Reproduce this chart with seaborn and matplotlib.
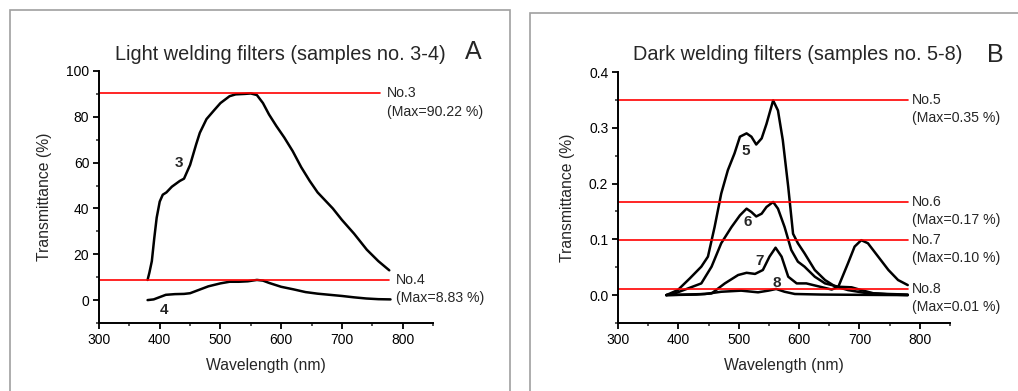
import matplotlib
matplotlib.use("Agg")
import matplotlib.pyplot as plt
import seaborn as sns
import pandas as pd
from matplotlib.patches import Rectangle
from matplotlib.ticker import MultipleLocator

# ---------------- data ----------------
wl3 = [380, 383, 387, 391, 395, 400, 405, 411, 420, 433, 440, 450, 460, 466, 477, 490, 500, 515, 525, 540, 550, 560, 570, 580, 592, 605, 619, 633, 647, 660, 685, 700, 720, 741, 760, 778]
t3 = [8.8, 12, 17, 27, 36, 43, 46, 47, 49.5, 52, 53, 59, 68, 73, 79, 83, 86, 89, 89.8, 90.0, 90.2, 89.5, 86, 81, 76, 71, 65, 58, 52, 47, 40, 35, 29, 22, 17, 13]

wl4 = [380, 390, 400, 410, 425, 440, 450, 465, 480, 500, 515, 530, 545, 560, 570, 580, 600, 620, 640, 660, 680, 700, 720, 740, 760, 780]
t4 = [0, 0.3, 1.3, 2.3, 2.6, 2.7, 3.0, 4.5, 6.0, 7.3, 8.0, 8.0, 8.2, 8.8, 8.5, 7.5, 5.8, 4.7, 3.5, 2.8, 2.3, 1.8, 1.2, 0.7, 0.4, 0.3]

wl5 = [380, 399, 419, 438, 449, 460, 471, 482, 493, 502, 513, 521, 529, 538, 546, 557, 565, 573, 582, 590, 598, 609, 626, 643, 659, 681, 709, 748, 780]
t5 = [0, 0.009, 0.030, 0.051, 0.069, 0.122, 0.182, 0.224, 0.254, 0.284, 0.290, 0.284, 0.270, 0.281, 0.307, 0.349, 0.331, 0.278, 0.194, 0.110, 0.093, 0.075, 0.045, 0.027, 0.016, 0.009, 0.004, 0.002, 0.001]

wl6 = [380, 394, 416, 438, 455, 471, 488, 502, 513, 521, 529, 538, 546, 557, 565, 576, 587, 598, 609, 626, 643, 665, 687, 703, 724, 753, 780]
t6 = [0, 0.003, 0.012, 0.021, 0.051, 0.093, 0.122, 0.143, 0.155, 0.149, 0.141, 0.146, 0.158, 0.167, 0.155, 0.122, 0.081, 0.060, 0.051, 0.033, 0.021, 0.015, 0.014, 0.009, 0.003, 0.001, 0.0]

wl7 = [380, 430, 455, 477, 499, 513, 527, 540, 551, 561, 571, 582, 596, 612, 631, 654, 665, 681, 692, 703, 714, 731, 748, 764, 780]
t7 = [0, 0.001, 0.003, 0.021, 0.036, 0.040, 0.038, 0.045, 0.069, 0.085, 0.069, 0.033, 0.021, 0.021, 0.016, 0.010, 0.015, 0.057, 0.087, 0.0985, 0.093, 0.069, 0.045, 0.027, 0.018]

wl8 = [380, 444, 471, 504, 532, 549, 562, 576, 593, 637, 700, 780]
t8 = [0, 0.002, 0.006, 0.008, 0.005, 0.008, 0.011, 0.006, 0.002, 0.001, 0.0005, 0.0]

# max-level reference lines
levels_A = [90.22, 8.83]
line_end_A = [762, 777]
names_A = ["No.3", "No.4"]
maxlab_A = ["(Max=90.22 %)", "(Max=8.83 %)"]

levels_B = [0.350, 0.167, 0.0985, 0.011]
names_B = ["No.5", "No.6", "No.7", "No.8"]
maxlab_B = ["(Max=0.35 %)", "(Max=0.17 %)", "(Max=0.10 %)", "(Max=0.01 %)"]

# curve number labels (x, y)
lab_A = [("3", 432, 60), ("4", 407, -4.5)]
lab_B = [("5", 512, 0.258), ("6", 515, 0.131), ("7", 535, 0.062), ("8", 563, 0.022)]

# ---------------- style ----------------
sns.set_style("ticks")
plt.rcParams['font.family'] = ['Liberation Sans', 'DejaVu Sans']
plt.rcParams['xtick.direction'] = 'out'
plt.rcParams['ytick.direction'] = 'out'

fig = plt.figure(figsize=(10.18, 3.91), dpi=100)

# panel borders
fig.patches.append(Rectangle((10 / 1018, -0.05), 500 / 1018, 1 - 10 / 391 + 0.05,
                             transform=fig.transFigure, fill=False, edgecolor="#a0a0a0", lw=1.2))
fig.patches.append(Rectangle((530 / 1018, -0.05), 500 / 1018, 1 - 13 / 391 + 0.05,
                             transform=fig.transFigure, fill=False, edgecolor="#a0a0a0", lw=1.2))

axA = fig.add_axes([99 / 1018, 1 - 323 / 391, (433 - 99) / 1018, (323 - 71) / 391])
axB = fig.add_axes([618 / 1018, 1 - 323 / 391, (950 - 618) / 1018, (323 - 72) / 391])

def style_axis(ax, ylim, ymaj, ymin):
    ax.set_xlim(300, 850)
    ax.set_ylim(*ylim)
    ax.xaxis.set_major_locator(MultipleLocator(100))
    ax.xaxis.set_minor_locator(MultipleLocator(50))
    ax.yaxis.set_major_locator(MultipleLocator(ymaj))
    ax.yaxis.set_minor_locator(MultipleLocator(ymin))
    for s in ["top", "right"]:
        ax.spines[s].set_visible(False)
    for s in ["left", "bottom"]:
        ax.spines[s].set_linewidth(1.4)
        ax.spines[s].set_color("black")
    ax.tick_params(which="major", length=4, width=1.3, labelsize=10, colors="black", pad=3)
    ax.tick_params(which="minor", length=2.5, width=1.1)
    ax.set_xlabel("Wavelength (nm)", fontsize=11.3, labelpad=8)
    ax.set_ylabel("Transmittance (%)", fontsize=11.3, labelpad=10)

# ---- panel A ----
for wl, t in [(wl3, t3), (wl4, t4)]:
    sns.lineplot(x=wl, y=t, ax=axA, color="black", lw=1.8, sort=False)
for lev, xe, nm, ml in zip(levels_A, line_end_A, names_A, maxlab_A):
    axA.plot([300, xe], [lev, lev], color="red", lw=1.2)
    axA.text(xe + 12, lev, nm, fontsize=10.2, va="center", ha="left", clip_on=False)
    axA.text(xe + 12, lev - 8, ml, fontsize=10.2, va="center", ha="left", clip_on=False)
for s, x, y in lab_A:
    axA.text(x, y, s, fontsize=11, fontweight="bold", ha="center", va="center")
style_axis(axA, (-10, 100), 20, 10)
fig.text(280 / 1018, 1 - 54 / 391, "Light welding filters (samples no. 3-4)", fontsize=14.3,
         ha="center", va="center")
fig.text(473 / 1018, 1 - 52 / 391, "A", fontsize=18, ha="center", va="center")

# ---- panel B ----
for wl, t in [(wl5, t5), (wl6, t6), (wl7, t7), (wl8, t8)]:
    sns.lineplot(x=wl, y=t, ax=axB, color="black", lw=1.8, sort=False)
for lev, nm, ml in zip(levels_B, names_B, maxlab_B):
    axB.plot([300, 780], [lev, lev], color="red", lw=1.2)
    axB.text(787, lev, nm, fontsize=10.2, va="center", ha="left", clip_on=False)
    axB.text(787, lev - 0.0325, ml, fontsize=10.2, va="center", ha="left", clip_on=False)
for s, x, y in lab_B:
    axB.text(x, y, s, fontsize=11, fontweight="bold", ha="center", va="center")
style_axis(axB, (-0.05, 0.4), 0.1, 0.05)
fig.text(798 / 1018, 1 - 54 / 391, "Dark welding filters (samples no. 5-8)", fontsize=14.3,
         ha="center", va="center")
fig.text(995 / 1018, 1 - 55 / 391, "B", fontsize=18, ha="center", va="center")

fig.savefig("out.png", dpi=100)
